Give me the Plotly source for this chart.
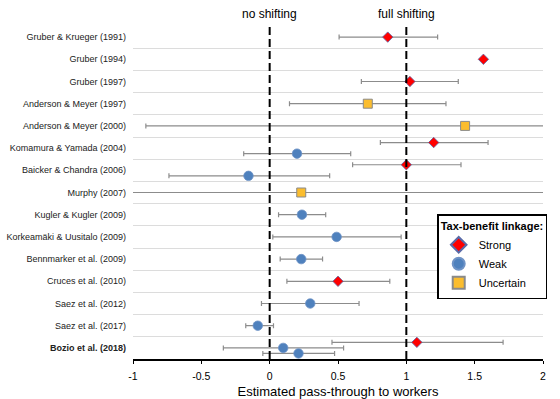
import numpy as np
import plotly.graph_objects as go

studies = [
    "Gruber & Krueger (1991)", "Gruber (1994)", "Gruber (1997)",
    "Anderson & Meyer (1997)", "Anderson & Meyer (2000)",
    "Komamura & Yamada (2004)", "Baicker & Chandra (2006)", "Murphy (2007)",
    "Kugler & Kugler (2009)", "Korkeamäki & Uusitalo (2009)",
    "Bennmarker et al. (2009)", "Cruces et al. (2010)", "Saez et al. (2012)",
    "Saez et al. (2017)", "Bozio et al. (2018)",
]

# one entry per estimate
est_study = [0, 1, 2, 3, 4, 5, 5, 6, 6, 7, 8, 9, 10, 11, 12, 13, 14, 14, 14]
est_type = ["Strong", "Strong", "Strong", "Uncertain", "Uncertain",
            "Strong", "Weak", "Strong", "Weak", "Uncertain", "Weak", "Weak",
            "Weak", "Strong", "Weak", "Weak", "Strong", "Weak", "Weak"]
est_value = [0.864, 1.564, 1.026, 0.718, 1.43, 1.20, 0.20, 1.00, -0.155,
             0.231, 0.236, 0.49, 0.231, 0.50, 0.297, -0.087, 1.077, 0.099, 0.211]
est_low = [0.508, None, 0.671, 0.145, -0.906, 0.81, -0.19, 0.607, -0.737,
           -1.4, 0.065, 0.023, 0.077, 0.126, -0.06, -0.175, 0.456, -0.339, -0.05]
est_high = [1.229, None, 1.38, 1.29, 2.6, 1.598, 0.593, 1.40, 0.439,
            2.6, 0.41, 0.962, 0.387, 0.879, 0.654, 0.028, 1.708, 0.541, 0.475]

x_ticks = [-1, -0.5, 0, 0.5, 1, 1.5, 2]
x_ticklabels = ["-1", "-0.5", "0", "0.5", "1", "1.5", "2"]

# vertical position: spread multiple estimates within a study's row
counts = {}
for s in est_study:
    counts[s] = counts.get(s, 0) + 1
seen = {}
est_y = []
for s in est_study:
    n = counts[s]
    k = seen.get(s, 0)
    seen[s] = k + 1
    off = 0.0 if n == 1 else np.linspace(-0.25, 0.25, n)[k]
    est_y.append(s + off)

styles = {
    "Strong": dict(symbol="diamond", color="#ff0000", line=dict(color="#5a6aa8", width=0.8), size=8),
    "Weak": dict(symbol="circle", color="#4f81bd", line=dict(color="#6f93c6", width=0.8), size=9.5),
    "Uncertain": dict(symbol="square", color="#fbbd2e", line=dict(color="#8a8a8a", width=1), size=9),
}

fig = go.Figure()
for cat in ["Strong", "Weak", "Uncertain"]:
    idx = [i for i, t in enumerate(est_type) if t == cat]
    xs = [est_value[i] for i in idx]
    ys = [est_y[i] for i in idx]
    plus = [None if est_high[i] is None else est_high[i] - est_value[i] for i in idx]
    minus = [None if est_low[i] is None else est_value[i] - est_low[i] for i in idx]
    fig.add_trace(go.Scatter(
        x=xs, y=ys, mode="markers", name=cat,
        marker=styles[cat],
        error_x=dict(type="data", symmetric=False, array=plus, arrayminus=minus,
                     color="#8c8c8c", thickness=1.2, width=2.5),
    ))

for xv in [0, 1]:
    fig.add_shape(type="line", x0=xv, x1=xv, y0=0, y1=1, xref="x", yref="paper",
                  line=dict(color="black", width=2, dash="8px,4px"), layer="above")

fig.add_annotation(x=0, y=1.035, xref="x", yref="paper", text="no shifting",
                   showarrow=False, font=dict(size=12, color="black"), yanchor="middle")
fig.add_annotation(x=1, y=1.035, xref="x", yref="paper", text="full shifting",
                   showarrow=False, font=dict(size=12, color="black"), yanchor="middle")

ticktext = [f"<b>{s}</b>" if "Bozio" in s else s for s in studies]

fig.update_layout(
    width=560, height=399,
    margin=dict(l=133, r=17, t=26, b=40),
    paper_bgcolor="white", plot_bgcolor="white",
    font=dict(family="Liberation Sans, Arial, sans-serif", color="black"),
    xaxis=dict(range=[-1, 2], tickvals=x_ticks, ticktext=x_ticklabels,
               showgrid=False, zeroline=False, showline=True, linecolor="black",
               linewidth=1.5, ticks="outside", ticklen=3, tickcolor="black",
               tickfont=dict(size=10.5), ticklabelstandoff=4, automargin=False,
               title=dict(text="Estimated pass-through to workers", font=dict(size=13), standoff=10)),
    yaxis=dict(range=[14.5, -0.5], tickvals=list(range(len(studies))), ticktext=ticktext,
               showgrid=False, zeroline=False, showline=False, ticks="", automargin=False,
               tickfont=dict(size=9, color="#222"), ticklabelstandoff=6,
               minor=dict(tickvals=[i - 0.5 for i in range(len(studies) + 1)], showgrid=True,
                          gridcolor="#dcdcdc", gridwidth=1, ticks="")),
    legend=dict(x=0.742, y=0.434, xanchor="left", yanchor="top",
                bordercolor="black", borderwidth=1.5, bgcolor="white",
                itemsizing="constant", font=dict(size=11), tracegroupgap=0,
                title=dict(text="<b>Tax-benefit linkage:</b>", font=dict(size=11))),
    showlegend=True,
)

fig.write_html("out.html")
